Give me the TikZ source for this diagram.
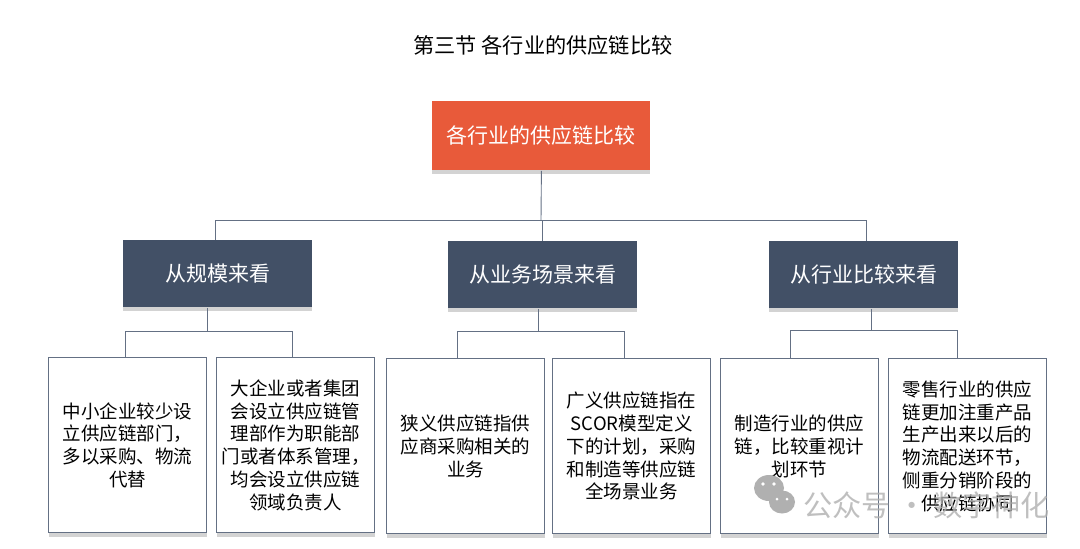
\documentclass[tikz,border=0pt]{standalone}
\usepackage{fontspec}
\setmainfont{Noto Sans CJK SC}
\usetikzlibrary{shadows}
\definecolor{rootc}{RGB}{232,90,58}
\definecolor{midc}{RGB}{66,80,102}
\definecolor{linec}{RGB}{100,112,132}
\definecolor{markc}{RGB}{176,176,176}
\tikzset{basebox/.style={anchor=north west,inner sep=0pt,align=center,
  drop shadow={shadow xshift=0pt,shadow yshift=-2pt,opacity=.35,fill=gray}},
 rootbox/.style={basebox,fill=rootc,text=white,minimum width=109pt,minimum height=34.5pt,font=\fontsize{10.5}{13}\selectfont},
 midbox/.style={basebox,fill=midc,text=white,minimum width=94.5pt,minimum height=33.5pt,font=\fontsize{10.5}{13}\selectfont},
 leafbox/.style={basebox,draw=linec,line width=.7pt,fill=white,minimum width=79pt,minimum height=87.5pt,font=\fontsize{9.25}{11.4}\selectfont},
 wire/.style={draw=linec,line width=.45pt},
 wmark/.style={text=markc,inner sep=0pt,font=\fontsize{14.6}{16}\selectfont}}
\begin{document}
\begin{tikzpicture}[x=.5pt,y=-.5pt]
\useasboundingbox (0,0) rectangle (1080,548);
\node[font=\fontsize{10.6}{13}\selectfont] (title) at (543,45) {第三节 各行业的供应链比较};
% top level
\node[rootbox] (root) at (432,101) {各行业的供应链比较};
\node[midbox] (scale) at (123,240) {从规模来看};
\node[midbox] (scene) at (448,241) {从业务场景来看};
\node[midbox] (trade) at (769,241) {从行业比较来看};
% leaves
\node[leafbox] (a1) at (48,357) {中小企业较少设\\立供应链部门，\\多以采购、物流\\代替};
\node[leafbox] (a2) at (216,357) {大企业或者集团\\会设立供应链管\\理部作为职能部\\门或者体系管理，\\均会设立供应链\\领域负责人};
\node[leafbox] (b1) at (386,358) {狭义供应链指供\\应商采购相关的\\业务};
\node[leafbox] (b2) at (552,358) {广义供应链指在\\SCOR模型定义\\下的计划，采购\\和制造等供应链\\全场景业务};
\node[leafbox] (c1) at (720,358) {制造行业的供应\\链，比较重视计\\划环节};
\node[leafbox] (c2) at (888,358) {零售行业的供应\\链更加注重产品\\生产出来以后的\\物流配送环节，\\侧重分销阶段的\\供应链协同};
% buses
\coordinate (bus) at (541,220);
\coordinate (busl) at (215,220);
\coordinate (busm) at (542,220);
\coordinate (busr) at (866,220);
\draw[wire] (root.south) -- (bus);
\draw[wire] (busl |- scale.north) -- (busl) -- (busr) -- (busr |- trade.north);
\draw[wire] (busm) -- (busm |- scene.north);
\foreach \n/\stem/\lx/\rx/\yy/\la/\lb in {scale/207/125/292/331/a1/a2,scene/538/457/624/331/b1/b2,trade/871/790/957/330/c1/c2}{
 \coordinate (\n j) at (\stem,\yy);
 \coordinate (\n l) at (\lx,\yy);
 \coordinate (\n r) at (\rx,\yy);
 \draw[wire] (\n j |- \n.south) -- (\n j);
 \draw[wire] (\n l |- \la.north) -- (\n l) -- (\n r) -- (\n r |- \lb.north);
}
% watermark
\fill[markc] (769,488) ellipse (15 and 13);
\fill[markc] (782,502) ellipse (13 and 11.5);
\fill[white] (763,484) circle (1.8) (774,484) circle (1.8);
\fill[white] (777,499) circle (1.5) (787,499) circle (1.5);
\node[wmark,anchor=west,opacity=.8] (wm) at (803,505) {公众号 · 数字神化};
\end{tikzpicture}
\end{document}
